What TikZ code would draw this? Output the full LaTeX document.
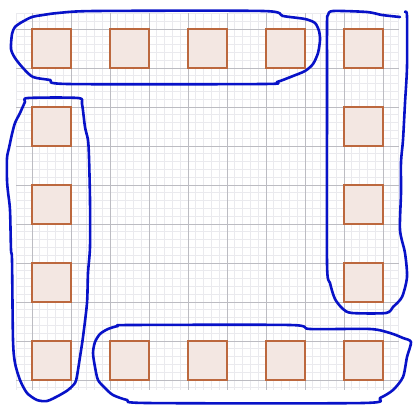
\documentclass[tikz,border=0pt]{standalone}
\begin{document}
\begin{tikzpicture}[x=1pt,y=-1pt,
  minorline/.style={draw=gmin,line width=0.9pt},
  majorline/.style={draw=gmaj,line width=0.9pt},
  cell/.style={draw=cellbrown,fill=cellfill,line width=1.6pt},
  loopline/.style={draw=loopblue,line width=2.6pt,line join=round,line cap=round}]
\definecolor{cellbrown}{RGB}{188,104,62}
\definecolor{cellfill}{RGB}{243,231,226}
\definecolor{loopblue}{RGB}{8,18,200}
\definecolor{gmaj}{RGB}{188,188,194}
\definecolor{gmin}{RGB}{234,234,238}
\useasboundingbox (0,0) rectangle (413,405);
% minor grid
\foreach \k in {-2,...,47} {
  \draw[minorline] ({32+7.8*\k},13.4) -- ({32+7.8*\k},390);
}
\foreach \k in {-2,...,46} {
  \draw[minorline] (16.4,{29+7.8*\k}) -- (398.6,{29+7.8*\k});
}
% major grid
\foreach \k in {0,...,9} {
  \draw[majorline] ({32+39*\k},13.4) -- ({32+39*\k},390);
  \draw[majorline] (16.4,{29+39*\k}) -- (398.6,{29+39*\k});
}
% cells
\foreach \x in {32,110,188,266,344} {
  \draw[cell] (\x,29) rectangle ++(39,39);
  \draw[cell] (\x,341) rectangle ++(39,39);
}
\foreach \y in {107,185,263} {
  \draw[cell] (32,\y) rectangle ++(39,39);
  \draw[cell] (344,\y) rectangle ++(39,39);
}
% loop top
\draw[loopline] plot[smooth cycle,tension=0.45] coordinates {
 (58,13) (95,11) (263,11) (283,16) (305,19) (315,23) (319,31) (320,40) (318,53)
 (313,64) (305,71) (293,76) (277,82) (263,84) (68,84) (50,80) (33,77) (23,68)
 (15,58) (11,49) (12,34) (15,27) (22,22) (32,17) (43,15)};
% loop right
\draw[loopline] plot[smooth,tension=0.45] coordinates {
 (400,17) (382,15) (367,12) (333,11) (328,15) (327,24) (327,100) (327,263)
 (330,283) (335,299) (343,309) (352,313) (386,313) (393,307) (402,297) (407,277)
 (405,253) (400,230) (401,193) (401,162) (403,140) (405,103) (407,67) (407,16) (405,12)};
% loop left
\draw[loopline] plot[smooth cycle,tension=0.45] coordinates {
 (28,98) (78,98) (82,104) (85,127) (88,140) (89,157) (90,200) (90,247) (88,273)
 (87,303) (83,337) (80,357) (77,376) (75,383) (68,390) (58,396) (47,401) (37,400)
 (27,393) (20,380) (15,363) (13,340) (12,260) (11,250) (10,210) (8,192) (7,180)
 (7,158) (9,148) (12,134) (15,123) (20,113) (25,102)};
% loop bottom
\draw[loopline] plot[smooth cycle,tension=0.45] coordinates {
 (130,325) (290,325) (310,329) (370,329) (390,333) (403,338) (411,342) (407,357)
 (403,377) (393,390) (380,398) (363,403) (147,403) (127,400) (113,395) (105,388)
 (98,380) (95,367) (93,353) (95,342) (100,334) (108,329) (118,326)};
\end{tikzpicture}
\end{document}
